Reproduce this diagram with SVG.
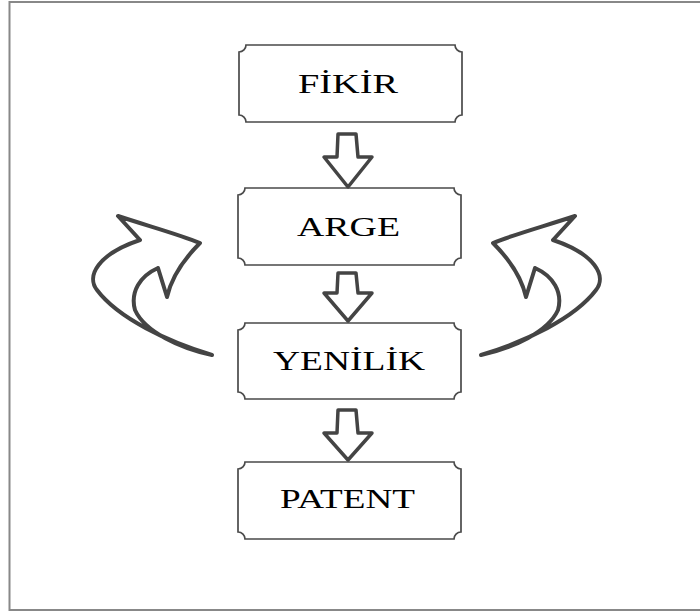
<svg xmlns="http://www.w3.org/2000/svg" width="700" height="612" viewBox="0 0 700 612">
<style>
.box{fill:#fff;stroke:#4a4a4a;stroke-width:1.7}
.lbl{font-family:"Liberation Serif","Times New Roman",serif;font-size:27px;fill:#000;text-anchor:middle}
.blk{fill:#fff;stroke:#444;stroke-width:3.5;stroke-linejoin:round}
.curve{fill:#fff;stroke:#444;stroke-width:4;stroke-linejoin:round}
</style>
<defs>
<path id="curl" d="M 212,355 C 168,342 118,318 97,290 C 86,276 98,254 140,240 L 118,216 C 148,226 178,234 200,243 C 185,258 172,275 167,297 L 158,268 C 140,276 130,292 135,310 C 145,332 180,348 212,355 Z"/>
</defs>
<rect x="0" y="0" width="700" height="612" fill="#fff"/>
<path d="M 702,2 H 9.5 V 610 H 702" fill="none" stroke="#888" stroke-width="2"/>

<g id="node-fikir">
<path class="box" d="M 246,45 H 455 A 7 7 0 0 0 462,52 V 115 A 7 7 0 0 0 455,122 H 246 A 7 7 0 0 0 239,115 V 52 A 7 7 0 0 0 246,45 Z"/>
<text class="lbl" x="348" y="93" textLength="100" lengthAdjust="spacingAndGlyphs">FİKİR</text>
</g>
<g id="node-arge">
<path class="box" d="M 245,188 H 454 A 7 7 0 0 0 461,195 V 258 A 7 7 0 0 0 454,265 H 245 A 7 7 0 0 0 238,258 V 195 A 7 7 0 0 0 245,188 Z"/>
<text class="lbl" x="348.5" y="236" textLength="103" lengthAdjust="spacingAndGlyphs">ARGE</text>
</g>
<g id="node-yenilik">
<path class="box" d="M 245,323 H 454 A 7 7 0 0 0 461,330 V 392 A 7 7 0 0 0 454,399 H 245 A 7 7 0 0 0 238,392 V 330 A 7 7 0 0 0 245,323 Z"/>
<text class="lbl" x="349" y="370" textLength="152" lengthAdjust="spacingAndGlyphs">YENİLİK</text>
</g>
<g id="node-patent">
<path class="box" d="M 245,462 H 454 A 7 7 0 0 0 461,469 V 532 A 7 7 0 0 0 454,539 H 245 A 7 7 0 0 0 238,532 V 469 A 7 7 0 0 0 245,462 Z"/>
<text class="lbl" x="347.5" y="508" textLength="135" lengthAdjust="spacingAndGlyphs">PATENT</text>
</g>

<g id="connectors">
<path class="blk" d="M 338,134 H 356 L 358,157 H 372 L 348,187 L 324,157 H 337 Z"/>
<path class="blk" d="M 338,273 H 356 L 358,293 H 372 L 348,321 L 324,293 H 337 Z"/>
<path class="blk" d="M 338,410 H 356 L 358,433 H 372 L 348,460 L 324,433 H 337 Z"/>
<use href="#curl" class="curve"/>
<use href="#curl" class="curve" transform="translate(693,0) scale(-1,1)"/>
</g>
</svg>
